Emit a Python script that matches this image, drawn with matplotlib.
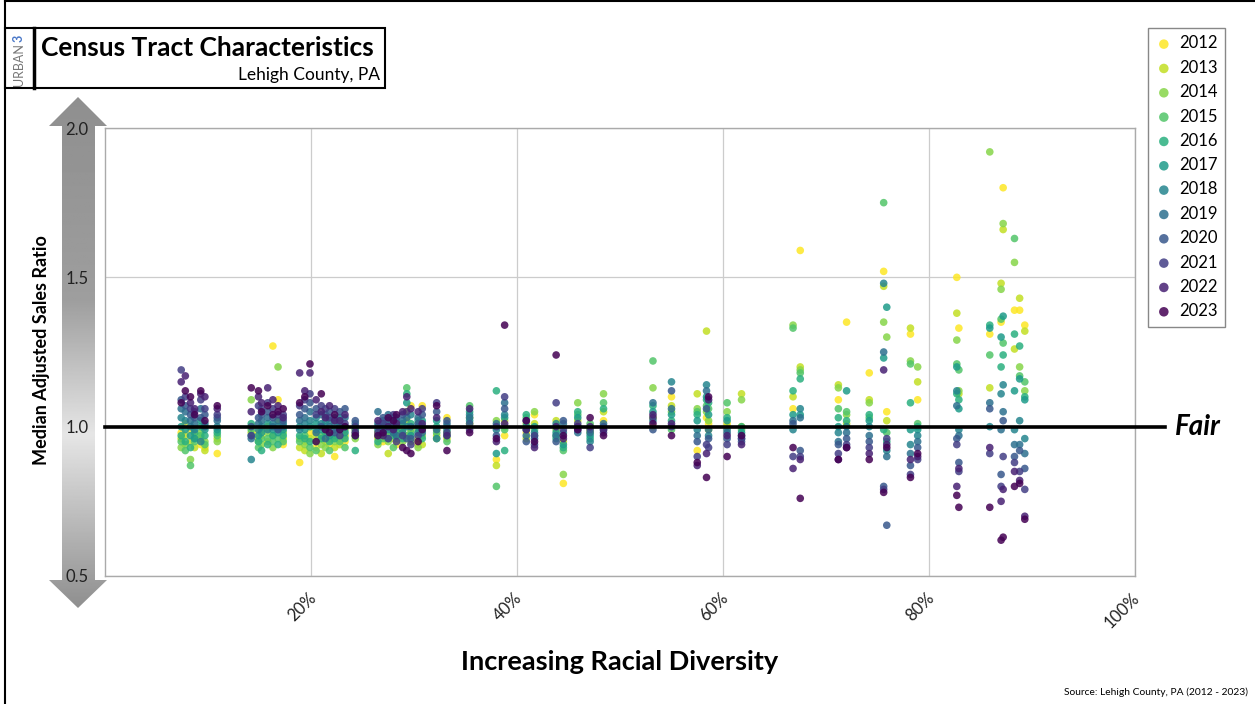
import numpy as np
import matplotlib.pyplot as plt
from matplotlib.patches import Polygon, Rectangle
from matplotlib.transforms import ScaledTranslation

plt.rcParams['font.family'] = ['Lato', 'DejaVu Sans']

years = list(range(2012, 2024))

# racial diversity of each tract (percent)
tract_pct = [7.4, 7.8, 8.3, 8.7, 9.3, 9.7, 10.9,
             14.2, 14.9, 15.2, 15.8, 16.3, 16.8, 17.3,
             18.9, 19.4, 19.9, 20.5, 21.0, 21.4, 21.8, 22.3, 22.8, 23.3, 24.3,
             26.5, 27.0, 27.5, 28.0, 28.3, 28.9, 29.3, 29.7, 30.4, 30.8, 32.2, 33.2,
             35.4, 38.0, 38.8, 40.9, 41.7, 43.8, 44.5, 45.9, 47.1, 48.4,
             53.2, 55.0, 57.5, 58.4, 58.6, 60.4, 61.8,
             66.8, 67.5, 71.2, 72.0, 74.2, 75.6, 75.9, 78.2, 78.9,
             82.7, 82.9, 85.9, 87.0, 87.2, 88.3, 88.8, 89.3]

# median adjusted sales ratio per tract, one value per year 2012..2023
tract_ratios = [
    [0.98, 0.96, 0.93, 0.95, 0.97, 1.00, 1.03, 1.06, 1.09, 1.19, 1.15, 1.08],
    [1.01, 0.97, 0.94, 0.92, 0.95, 0.99, 1.02, 1.05, 1.07, 1.10, 1.17, 1.12],
    [0.99, 0.95, 0.89, 0.87, 0.93, 0.97, 1.00, 1.02, 1.04, 1.06, 1.08, 1.10],
    [0.97, 0.93, 0.96, 0.95, 0.98, 0.96, 0.99, 1.01, 1.03, 1.05, 1.06, 1.04],
    [0.94, 0.96, 0.98, 0.97, 1.00, 1.02, 0.95, 1.06, 1.03, 1.09, 1.11, 1.12],
    [0.93, 0.92, 0.95, 0.94, 0.97, 0.99, 1.01, 1.00, 1.04, 1.06, 1.10, 1.02],
    [0.91, 0.96, 0.95, 0.97, 0.98, 0.99, 1.00, 1.02, 1.03, 1.04, 1.06, 1.07],
    [1.00, 0.98, 1.09, 0.99, 1.01, 0.97, 0.89, 0.96, 1.00, 0.97, 1.05, 1.13],
    [0.98, 0.96, 0.95, 0.93, 0.95, 0.97, 0.99, 1.01, 1.03, 1.07, 1.10, 1.12],
    [0.97, 0.99, 0.94, 0.96, 0.92, 0.98, 1.00, 1.02, 1.04, 1.06, 1.08, 1.05],
    [1.00, 0.95, 0.98, 0.96, 0.94, 1.01, 0.99, 1.03, 1.05, 1.08, 1.13, 1.07],
    [1.27, 0.97, 0.93, 0.95, 0.97, 0.99, 1.01, 1.00, 1.03, 1.06, 1.09, 1.04],
    [1.09, 1.02, 1.20, 0.96, 0.94, 0.98, 1.00, 1.02, 0.99, 1.04, 1.07, 1.05],
    [0.94, 0.96, 0.98, 0.95, 0.97, 0.99, 1.01, 1.00, 1.02, 1.04, 1.03, 1.06],
    [0.88, 0.93, 0.96, 0.95, 0.97, 1.00, 0.99, 1.02, 1.04, 1.07, 1.18, 1.08],
    [0.95, 0.92, 0.94, 0.97, 0.96, 0.99, 1.01, 1.03, 1.06, 1.09, 1.12, 1.10],
    [0.98, 0.96, 0.91, 0.93, 0.95, 1.00, 1.02, 1.05, 1.08, 1.11, 1.18, 1.21],
    [0.93, 0.97, 0.95, 0.92, 0.99, 1.01, 1.03, 0.98, 1.06, 1.04, 1.09, 0.95],
    [0.96, 0.91, 0.94, 0.97, 0.96, 0.99, 1.01, 1.04, 1.00, 1.07, 1.05, 1.11],
    [0.97, 0.95, 0.93, 0.99, 0.98, 1.00, 1.02, 0.96, 1.04, 1.06, 1.03, 0.99],
    [0.94, 0.96, 0.98, 0.92, 0.95, 0.97, 1.02, 1.00, 1.05, 1.03, 1.07, 0.98],
    [0.90, 0.93, 0.95, 0.97, 0.96, 0.99, 1.01, 1.03, 0.98, 1.06, 1.02, 1.04],
    [0.96, 0.94, 0.97, 0.95, 0.99, 1.01, 1.03, 1.00, 1.05, 0.97, 1.02, 0.99],
    [0.95, 0.97, 0.99, 0.93, 0.96, 0.98, 1.00, 1.03, 1.06, 1.01, 1.04, 1.00],
    [0.97, 0.99, 0.96, 0.98, 0.92, 0.97, 0.99, 1.01, 1.02, 1.00, 0.98, 0.97],
    [0.98, 0.96, 0.94, 0.97, 0.95, 0.99, 1.01, 1.05, 1.00, 0.98, 1.02, 0.97],
    [0.95, 0.97, 0.99, 0.96, 0.98, 1.00, 1.02, 0.99, 1.03, 1.01, 0.97, 0.98],
    [0.97, 0.91, 0.95, 0.98, 0.96, 1.01, 0.99, 1.04, 1.02, 0.96, 1.00, 1.03],
    [0.99, 0.96, 0.98, 0.93, 0.97, 1.00, 1.03, 0.98, 1.01, 1.04, 0.99, 1.02],
    [0.94, 0.98, 0.96, 0.97, 0.99, 1.02, 1.00, 0.97, 1.03, 0.95, 1.01, 1.04],
    [1.00, 0.97, 0.95, 0.99, 0.96, 1.01, 0.98, 1.02, 1.04, 0.97, 1.05, 0.93],
    [1.05, 1.02, 0.97, 1.13, 1.11, 1.08, 1.00, 1.03, 0.96, 1.05, 1.10, 0.92],
    [1.07, 0.99, 0.95, 0.98, 1.01, 0.97, 1.04, 1.00, 0.96, 0.94, 1.06, 0.91],
    [0.94, 0.96, 0.93, 0.99, 1.02, 1.00, 0.98, 1.03, 1.01, 0.97, 1.05, 0.95],
    [1.07, 0.94, 0.97, 0.99, 0.96, 1.02, 1.00, 0.98, 1.04, 1.06, 1.01, 0.99],
    [0.99, 0.97, 0.96, 0.98, 1.00, 1.02, 0.96, 0.99, 1.05, 1.08, 1.03, 1.07],
    [1.03, 0.96, 0.98, 0.95, 0.97, 0.99, 1.00, 1.01, 1.02, 0.98, 0.97, 0.92],
    [1.00, 1.01, 1.03, 1.07, 1.05, 1.02, 1.04, 1.03, 1.01, 0.99, 1.06, 0.98],
    [0.89, 0.87, 1.02, 0.80, 1.12, 0.91, 0.99, 1.01, 0.97, 1.00, 0.95, 0.96],
    [0.97, 1.02, 1.00, 0.99, 0.92, 1.03, 1.04, 1.08, 1.06, 1.10, 1.01, 1.34],
    [0.98, 0.96, 1.01, 1.03, 1.04, 1.00, 0.99, 0.97, 0.95, 1.02, 0.99, 1.02],
    [1.04, 1.01, 1.05, 0.99, 0.97, 1.00, 0.98, 0.96, 0.94, 0.97, 0.93, 0.95],
    [1.00, 1.02, 0.99, 0.97, 0.96, 0.98, 1.01, 0.97, 0.95, 1.08, 1.00, 1.24],
    [0.81, 0.95, 0.84, 0.92, 0.93, 0.94, 0.98, 1.01, 1.02, 0.99, 0.96, 0.97],
    [1.00, 1.02, 1.08, 1.04, 1.05, 1.03, 1.00, 0.98, 0.99, 1.01, 1.00, 0.99],
    [0.99, 1.00, 0.98, 1.01, 0.96, 0.97, 0.95, 0.98, 0.99, 0.93, 1.00, 1.03],
    [1.02, 1.05, 1.11, 1.08, 1.06, 1.00, 0.99, 1.01, 1.00, 0.98, 0.99, 0.97],
    [1.00, 1.03, 1.13, 1.22, 1.07, 1.05, 1.02, 1.08, 0.99, 1.03, 1.04, 1.01],
    [1.10, 1.07, 1.05, 0.99, 1.02, 1.04, 1.15, 1.06, 1.12, 1.00, 1.01, 0.97],
    [0.92, 1.11, 1.06, 1.05, 1.04, 1.02, 0.99, 0.97, 0.95, 0.90, 0.87, 0.88],
    [1.03, 1.32, 1.05, 1.07, 1.09, 1.10, 1.14, 1.12, 1.06, 0.94, 0.91, 0.83],
    [1.01, 0.99, 1.02, 1.06, 1.08, 1.04, 0.97, 0.99, 0.96, 0.93, 1.09, 1.10],
    [1.01, 1.00, 1.05, 1.08, 1.03, 1.02, 0.99, 0.98, 0.96, 0.94, 0.97, 0.90],
    [1.00, 1.11, 1.09, 0.99, 1.00, 0.98, 0.97, 0.96, 0.95, 0.96, 0.94, 0.97],
    [1.06, 1.10, 1.34, 1.33, 1.12, 1.04, 0.99, 1.02, 1.01, 0.90, 0.86, 0.93],
    [1.59, 1.20, 1.19, 1.18, 1.16, 1.04, 1.06, 1.03, 0.92, 0.90, 0.89, 0.76],
    [1.09, 1.14, 1.13, 1.06, 1.03, 1.00, 0.98, 0.95, 0.94, 0.91, 0.89, 0.89],
    [1.35, 1.01, 1.04, 1.05, 1.02, 1.12, 1.00, 0.98, 0.96, 0.94, 0.93, 0.93],
    [1.18, 1.09, 1.08, 1.03, 1.04, 1.02, 1.00, 0.97, 0.95, 0.93, 0.91, 0.89],
    [1.52, 1.47, 1.35, 1.75, 0.99, 1.23, 1.48, 1.25, 0.80, 0.79, 1.19, 0.78],
    [1.05, 1.02, 1.30, 0.98, 0.95, 1.40, 0.92, 0.90, 0.67, 0.96, 0.94, 0.93],
    [1.31, 1.33, 1.22, 1.21, 1.08, 0.99, 0.94, 0.91, 0.87, 0.84, 0.89, 0.83],
    [1.09, 1.15, 1.20, 1.01, 1.00, 0.99, 0.97, 0.95, 0.93, 0.89, 0.90, 0.91],
    [1.50, 1.38, 1.29, 1.21, 1.11, 1.20, 1.12, 1.07, 0.96, 0.94, 0.80, 0.77],
    [1.33, 1.11, 1.12, 1.19, 1.09, 1.06, 0.99, 0.97, 0.88, 0.85, 0.86, 0.73],
    [1.31, 1.13, 1.92, 1.24, 1.34, 1.33, 1.00, 1.08, 1.06, 0.91, 0.93, 0.73],
    [1.35, 1.48, 1.46, 1.36, 1.20, 1.30, 1.11, 0.99, 0.84, 0.80, 0.75, 0.62],
    [1.80, 1.66, 1.68, 1.28, 1.24, 1.37, 1.14, 1.05, 1.02, 0.90, 0.79, 0.63],
    [1.39, 1.26, 1.55, 1.63, 1.31, 1.12, 0.99, 0.94, 0.90, 0.88, 0.85, 0.80],
    [1.39, 1.43, 1.20, 1.17, 1.27, 1.16, 1.02, 0.94, 0.92, 0.85, 0.82, 0.81],
    [1.34, 1.32, 1.12, 1.15, 1.10, 1.09, 0.96, 0.91, 0.86, 0.79, 0.70, 0.69],
]

x_ticks = [20, 40, 60, 80, 100]
y_ticks = [0.5, 1.0, 1.5, 2.0]
fair_ratio = 1.0

colors = plt.cm.viridis(np.linspace(1, 0, len(years)))

fig = plt.figure(figsize=(12.55, 7.04), dpi=100)

# decoration layer in pixel coordinates
deco = fig.add_axes([0, 0, 1, 1], zorder=0)
deco.axis('off')

# gray gradient double arrow behind the y tick labels
arrow = Polygon([(78, 97), (107, 126), (95, 126), (95, 580), (107, 580),
                 (78, 608), (49, 580), (62, 580), (62, 126), (49, 126)],
                closed=True, facecolor='none', edgecolor='none')
deco.add_patch(arrow)
yy = np.linspace(97, 608, 400)
shade = np.interp(yy, [97, 300, 435, 608], [0.56, 0.62, 0.90, 0.56])
im = deco.imshow(np.tile(shade[:, None], (1, 2)), cmap='gray', vmin=0, vmax=1,
                 extent=(49, 107, 608, 97), aspect='auto')
im.set_clip_path(arrow)
deco.set_xlim(0, 1255)
deco.set_ylim(704, 0)

# page border + title box
deco.plot([5, 5], [0, 704], color='black', lw=1.5)
deco.plot([5, 1255], [1, 1], color='black', lw=1.5)
deco.add_patch(Rectangle((5, 28), 380, 60, fill=False, ec='black', lw=1.5))
deco.plot([34, 34], [28, 88], color='black', lw=2.5)
urban = deco.text(19, 86, 'URBAN', rotation=90, fontsize=9, color='#777777',
                  ha='center', va='bottom')
fig.canvas.draw()
bb = urban.get_window_extent()
top_y = deco.transData.inverted().transform((0, bb.y1))[1]
deco.text(19, top_y - 1, '3', rotation=90, fontsize=9, color='#4a78c8',
          fontweight='bold', ha='center', va='bottom')
deco.text(41, 48, 'Census Tract Characteristics', fontsize=19, fontweight='bold',
          ha='left', va='center')
deco.text(380, 75, 'Lehigh County, PA', fontsize=12.5, ha='right', va='center')

deco.text(42, 350, 'Median Adjusted Sales Ratio', rotation=90, fontsize=13,
          fontweight='bold', ha='center', va='center')
deco.text(620, 662, 'Increasing Racial Diversity', fontsize=19.5, fontweight='bold',
          ha='center', va='center')
deco.text(1248, 692, 'Source: Lehigh County, PA (2012 - 2023)', fontsize=7.4,
          ha='right', va='center')

# main scatter
ax = fig.add_axes([105 / 1255, 1 - 576 / 704, 1030 / 1255, 448 / 704], zorder=1)
for j, year in enumerate(years):
    ax.scatter(tract_pct, [r[j] for r in tract_ratios], s=30, color=colors[j],
               alpha=0.85, edgecolors='none', label=str(year), zorder=2)

ax.set_xlim(0, 100)
ax.set_ylim(0.5, 2.0)
ax.set_xticks(x_ticks)
ax.set_xticklabels([f'{v}%' for v in x_ticks], rotation=45, ha='right', va='top')
ax.set_yticks(y_ticks)
ax.set_yticklabels([f'{v:.1f}' for v in y_ticks])
ax.tick_params(length=0, labelsize=12, colors='#222222')
ax.tick_params(axis='x', pad=10)
ax.tick_params(axis='y', pad=12)
offset = ScaledTranslation(8 / 100, 0, fig.dpi_scale_trans)
for lbl in ax.get_xticklabels():
    lbl.set_transform(lbl.get_transform() + offset)
ax.grid(True, color='#cccccc', lw=0.9)
ax.set_axisbelow(True)
for sp in ax.spines.values():
    sp.set_color('#aaaaaa')
    sp.set_linewidth(1)

ax.axhline(fair_ratio, xmin=0, xmax=1.029, color='black', lw=2.6, clip_on=False, zorder=3)
ax.text(1.039, fair_ratio, 'Fair', transform=ax.get_yaxis_transform(), fontsize=20,
        fontweight='bold', style='italic', ha='left', va='center')

ax.legend(loc='upper left', bbox_to_anchor=(1148 / 1255, 1 - 28 / 704),
          bbox_transform=fig.transFigure, borderaxespad=0, fancybox=False,
          edgecolor='#888888', framealpha=1, fontsize=12, labelspacing=0.5,
          handletextpad=0.4, handlelength=1.0, borderpad=0.45, markerscale=1.25)

fig.savefig('out.png', dpi=100)
